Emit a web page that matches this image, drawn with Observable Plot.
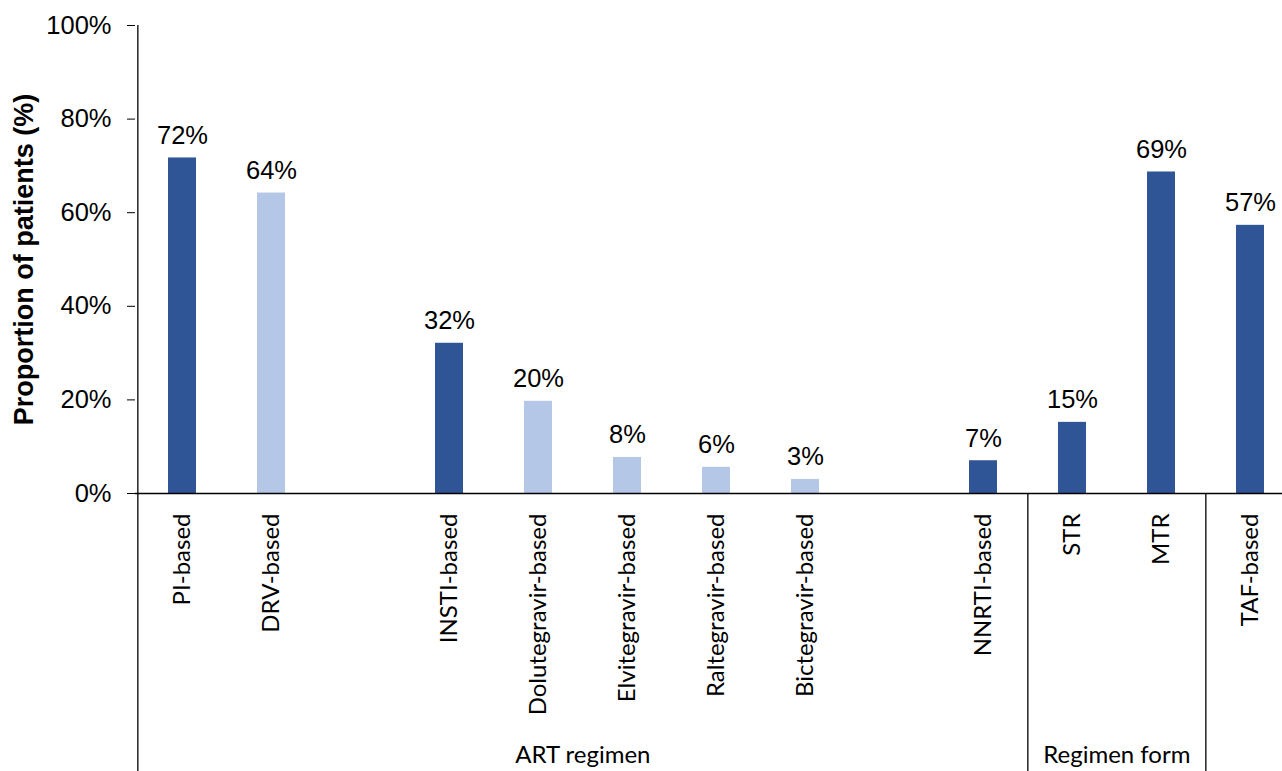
<!DOCTYPE html>
<html>
<head>
<meta charset="utf-8">
<script src="https://cdn.jsdelivr.net/npm/d3@7"></script>
<script src="https://cdn.jsdelivr.net/npm/@observablehq/plot@0.6"></script>
<style>
  html, body { margin: 0; padding: 0; background: #fff; overflow: hidden; }
  #chart { width: 1282px; height: 771px; overflow: hidden; }
  #chart svg { max-width: none !important; display: block; }
</style>
</head>
<body>
<div id="chart"></div>
<script>
// Slots along the x axis (blank slots are gaps in the original chart)
const slots = ["PI-based", "DRV-based", "gap1", "INSTI-based", "Dolutegravir-based",
  "Elvitegravir-based", "Raltegravir-based", "Bictegravir-based", "gap2", "NNRTI-based",
  "STR", "MTR", "TAF-based"];
const categories = ["PI-based", "DRV-based", "INSTI-based", "Dolutegravir-based",
  "Elvitegravir-based", "Raltegravir-based", "Bictegravir-based", "NNRTI-based",
  "STR", "MTR", "TAF-based"];
const values = [71.7, 64.2, 32.1, 19.7, 7.7, 5.6, 3.0, 7.0, 15.2, 68.7, 57.3];
const valueLabels = ["72%", "64%", "32%", "20%", "8%", "6%", "3%", "7%", "15%", "69%", "57%"];
const kinds = ["class", "drug", "class", "drug", "drug", "drug", "drug", "class", "class", "class", "class"];
const yTicks = [0, 20, 40, 60, 80, 100];
const groupNames = ["ART regimen", "Regimen form"];
const groupCenters = ["Elvitegravir-based", "MTR"];   // label sits at left edge of these slots
const separators = ["STR", "TAF-based"];               // separators at left edge of these slots

const data = categories.map((c, i) => ({cat: c, value: values[i], label: valueLabels[i], kind: kinds[i]}));

const W = 1296, H = 771, ML = 135, MR = 0, MT = 25, MB = 278;
const step = (W - ML - MR) / slots.length;
const pad = 0.69;

const chart = Plot.plot({
  width: W,
  height: H,
  marginLeft: ML,
  marginRight: MR,
  marginTop: MT,
  marginBottom: MB,
  style: {background: "#fff", color: "#000", fontFamily: "'Liberation Sans', Arial, sans-serif", maxWidth: "none"},
  x: {domain: slots, paddingInner: pad, paddingOuter: pad / 2, axis: null},
  y: {domain: [0, 100], axis: null},
  color: {domain: ["class", "drug"], range: ["#2F5597", "#B4C7E7"]},
  marks: [
    Plot.barY(data, {x: "cat", y: "value", fill: "kind"}),
    Plot.axisY({ticks: yTicks, tickSize: 8, tickPadding: 16, tickFormat: d => d + "%",
      fontSize: 25.5, label: null, stroke: "#000"}),
    Plot.ruleY([0], {stroke: "#000", strokeWidth: 1.3}),
    // left axis line, extended down through the category area
    Plot.ruleX(["PI-based"], {x: d => d, dx: -step / 2, insetBottom: -MB, stroke: "#000", strokeWidth: 1.3}),
    // group separators below the axis
    Plot.ruleX(separators, {x: d => d, dx: -step / 2, insetTop: H - MT - MB, insetBottom: -MB, stroke: "#000", strokeWidth: 1.3}),
    // value labels
    Plot.text(data, {x: "cat", y: "value", text: "label", dy: -14, lineAnchor: "bottom",
      fontSize: 25.5, fill: "#000"}),
    // rotated category labels
    Plot.text(categories, {x: d => d, frameAnchor: "bottom", text: d => d, rotate: -90,
      textAnchor: "end", lineAnchor: "middle", dy: 20, fontSize: 24, fill: "#000",
      fontFamily: "Lato, 'Open Sans', sans-serif"}),
    // group labels
    Plot.text(groupNames, {x: (d, i) => groupCenters[i], dx: -step / 2, frameAnchor: "bottom",
      text: d => d, lineAnchor: "bottom", dy: 269, fontSize: 24, fill: "#000",
      fontFamily: "Lato, 'Open Sans', sans-serif"}),
    // y axis title
    Plot.text(["Proportion of patients (%)"], {frameAnchor: "left", text: d => d, rotate: -90,
      textAnchor: "middle", dx: -111, lineAnchor: "middle", fontSize: 27, fontWeight: "bold", fill: "#000"})
  ]
});
document.getElementById("chart").appendChild(chart);
</script>
</body>
</html>
